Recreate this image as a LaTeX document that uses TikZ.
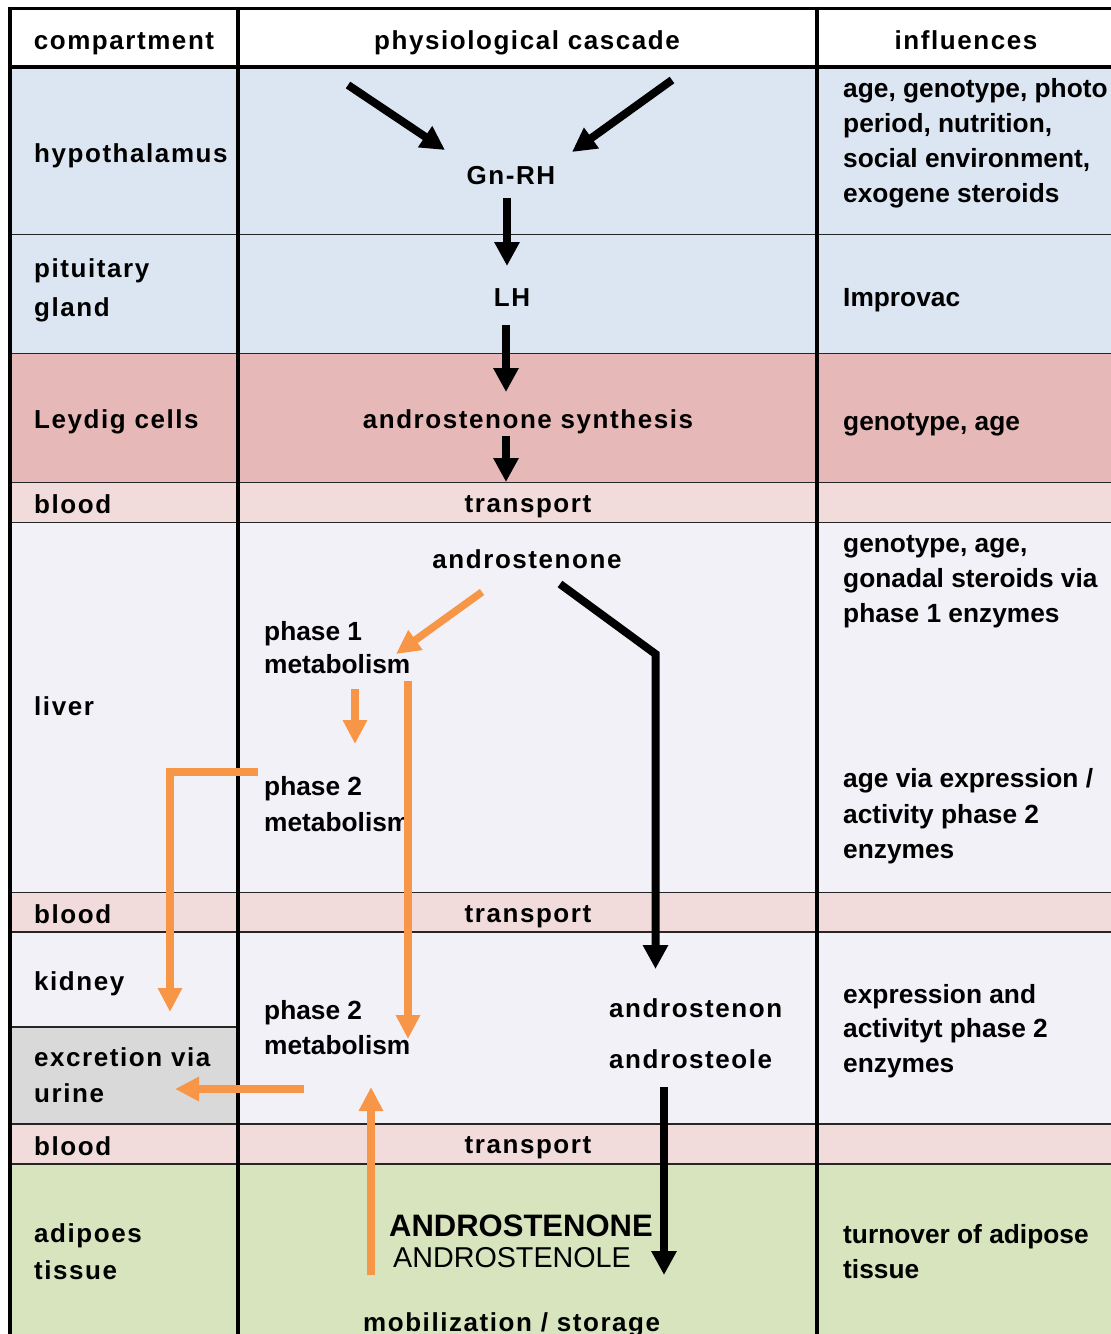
\documentclass[tikz,border=0pt]{standalone}
\usepackage{fontspec}
\setmainfont{Liberation Sans}
\newfontfamily\spfont[LetterSpace=6]{Liberation Sans}
\usetikzlibrary{arrows.meta}
\definecolor{cblue}{HTML}{DCE6F2}
\definecolor{cleydig}{HTML}{E6B9B8}
\definecolor{cblood}{HTML}{F2DCDB}
\definecolor{cliver}{HTML}{F3F1F8}
\definecolor{cgray}{HTML}{D9D9D9}
\definecolor{cgreen}{HTML}{D7E4BD}
\definecolor{corange}{HTML}{F79646}
\tikzset{
  sp/.style={font=\spfont\bfseries\fontsize{26}{31}\selectfont, inner sep=0pt, anchor=base west},
  spc/.style={sp, anchor=base},
  pl/.style={font=\bfseries\fontsize{26.3}{31}\selectfont, inner sep=0pt, anchor=base west},
  thinline/.style={line width=1.4pt, draw=black!85},
  thickline/.style={line width=3.8pt, draw=black},
  blk/.style={draw=black, line width=8pt, -{Triangle[length=24pt,width=24pt]}},
  org/.style={draw=corange, line width=7.5pt, -{Triangle[length=24pt,width=23pt]}},
}
\begin{document}
\begin{tikzpicture}[x=1pt,y=-1pt]
\useasboundingbox (0,0) rectangle (1111,1334);
% fills
\fill[white] (10,8) rectangle (1111,67);
\fill[cblue] (10,67) rectangle (1111,354);
\fill[cleydig] (10,354) rectangle (1111,483);
\fill[cblood] (10,483) rectangle (1111,522);
\fill[cliver] (10,522) rectangle (1111,892);
\fill[cblood] (10,892) rectangle (1111,932);
\fill[cliver] (10,932) rectangle (1111,1124);
\fill[cgray] (10,1027) rectangle (238,1124);
\fill[cblood] (10,1124) rectangle (1111,1164);
\fill[cgreen] (10,1164) rectangle (1111,1334);
% thin row lines
\foreach \yy in {234.5,353.5,482.5,522.5,892.5,932,1124,1164}
  \draw[thinline] (10,\yy) -- (1111,\yy);
\draw[thinline, line width=2pt] (10,1027) -- (238,1027);
% thick lines
\draw[thickline] (10,8.5) -- (1111,8.5);
\draw[thickline] (10,67) -- (1111,67);
\draw[thickline] (10,6.6) -- (10,1334);
\draw[thickline] (238,6.6) -- (238,1334);
\draw[thickline] (817,6.6) -- (817,1334);

% header
\node[spc] (hcomp) at (124,49) {compartment};
\node[spc] (hcasc) at (527,49) {physiological cascade};
\node[spc] (hinfl) at (966,49) {influences};

% column 1
\node[sp] (c1a) at (34,162) {hypothalamus};
\node[sp] (c1b) at (34,277) {pituitary};
\node[sp] (c1c) at (34,316) {gland};
\node[sp] (c1d) at (34,428) {Leydig cells};
\node[sp] (c1e) at (34,513) {blood};
\node[sp] (c1f) at (34,715) {liver};
\node[sp] (c1g) at (34,923) {blood};
\node[sp] (c1h) at (34,990) {kidney};
\node[sp] (c1i) at (34,1066) {excretion via};
\node[sp] (c1j) at (34,1102) {urine};
\node[sp] (c1k) at (34,1155) {blood};
\node[sp] (c1l) at (34,1242) {adipoes};
\node[sp] (c1m) at (34,1279) {tissue};

% column 2
\node[spc] (gnrh) at (511,184) {Gn-RH};
\node[spc] (lh) at (512,306) {LH};
\node[spc] (syn) at (528,428) {androstenone synthesis};
\node[spc] (tr1) at (528,512) {transport};
\node[spc] (tr2) at (528,922) {transport};
\node[spc] (tr3) at (528,1153) {transport};
\node[spc] (andr) at (527,568) {androstenone};
\node[pl] (p1a) at (264,640) {phase 1};
\node[pl] (p1b) at (264,673) {metabolism};
\node[pl] (p2a) at (264,795) {phase 2};
\node[pl] (p2b) at (264,831) {metabolism};
\node[pl] (p3a) at (264,1019) {phase 2};
\node[pl] (p3b) at (264,1054) {metabolism};
\node[sp] (an1) at (609,1017) {androstenon};
\node[sp] (an2) at (609,1068) {androsteole};
\node[inner sep=0pt, anchor=base west, font=\bfseries\fontsize{31}{36}\selectfont] (big1) at (389,1236) {ANDROSTENONE};
\node[inner sep=0pt, anchor=base west, font=\fontsize{28.7}{33}\selectfont] (big2) at (393,1267) {ANDROSTENOLE};
\node[sp] (mob) at (363,1331) {mobilization / storage};

% column 3
\node[pl] (i1) at (843,97) {age, genotype, photo};
\node[pl] (i2) at (843,132) {period, nutrition,};
\node[pl] (i3) at (843,167) {social environment,};
\node[pl] (i4) at (843,202) {exogene steroids};
\node[pl] (i5) at (843,306) {Improvac};
\node[pl] (i6) at (843,430) {genotype, age};
\node[pl] (i7) at (843,552) {genotype, age,};
\node[pl] (i8) at (843,587) {gonadal steroids via};
\node[pl] (i9) at (843,622) {phase 1 enzymes};
\node[pl] (i10) at (843,787) {age via expression /};
\node[pl] (i11) at (843,823) {activity phase 2};
\node[pl] (i12) at (843,858) {enzymes};
\node[pl] (i13) at (843,1003) {expression and};
\node[pl] (i14) at (843,1037) {activityt phase 2};
\node[pl] (i15) at (843,1072) {enzymes};
\node[pl] (i16) at (843,1243) {turnover of adipose};
\node[pl] (i17) at (843,1278) {tissue};

% arrow coordinates
\coordinate (d1s) at (348,85);  \coordinate (d1e) at (445,150);
\coordinate (d2s) at (672,80);  \coordinate (d2e) at (572,152);
\coordinate (v1s) at (507,198); \coordinate (v1e) at (507,266);
\coordinate (v2s) at (506,325); \coordinate (v2e) at (506,392);
\coordinate (v3s) at (506,436); \coordinate (v3e) at (506,482);
\coordinate (k1s) at (560,584); \coordinate (k1c) at (655.5,654); \coordinate (k1e) at (655.5,969);
\coordinate (k2s) at (664,1087); \coordinate (k2e) at (664,1275);
\coordinate (o1s) at (482,592); \coordinate (o1e) at (396,654);
\coordinate (o2s) at (355,689); \coordinate (o2e) at (355,744);
\coordinate (o3s) at (408,681); \coordinate (o3e) at (408,1039);
\coordinate (o4s) at (258,772); \coordinate (o4c) at (170,772); \coordinate (o4e) at (170,1012);
\coordinate (o5s) at (304,1089); \coordinate (o5e) at (175,1089);
\coordinate (o6s) at (371,1275); \coordinate (o6e) at (371,1087);

% black arrows
\draw[blk] (d1s) -- (d1e);
\draw[blk] (d2s) -- (d2e);
\draw[blk] (v1s) -- (v1e);
\draw[blk] (v2s) -- (v2e);
\draw[blk] (v3s) -- (v3e);
\draw[blk] (k1s) -- (k1c) -- (k1e);
\draw[blk] (k2s) -- (k2e);
% orange arrows
\draw[org] (o1s) -- (o1e);
\draw[org] (o2s) -- (o2e);
\draw[org] (o3s) -- (o3e);
\draw[org] (o4s) -- (o4c) -- (o4e);
\draw[org] (o5s) -- (o5e);
\draw[org] (o6s) -- (o6e);
\end{tikzpicture}
\end{document}
